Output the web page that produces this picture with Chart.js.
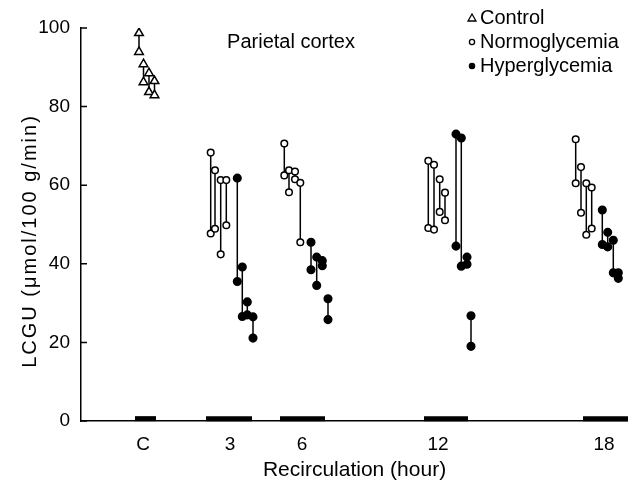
<!DOCTYPE html>
<html>

<head>
    <title>Parietal cortex LCGU</title>
    <script src="https://cdn.jsdelivr.net/npm/chart.js"></script>
    <style>
        body { margin: 0; background: #fff; }
    </style>
</head>

<body>

    <div style="width: 628px; height: 484px;">
        <canvas id="myChart" width="628" height="484"></canvas>
    </div>

    <script>
        // x axis: group tick positions (arbitrary position units) and labels
        const groupLabels = ['C', '3', '6', '12', '18'];
        const groupTickPos = [6.2, 14.9, 22.1, 35.7, 52.3];
        // thick black marks sitting on the x axis under each group
        const groupBarFrom = [5.4, 12.5, 19.9, 34.3, 50.2];
        const groupBarTo = [7.5, 17.1, 24.4, 38.7, 54.7];

        const yTicks = [0, 20, 40, 60, 80, 100];

        // each animal = a pair of values joined by a vertical line
        const controlX = [5.8, 6.25, 6.8, 7.35];
        const controlFirst = [98.7, 90.8, 88.5, 86.5];
        const controlSecond = [93.9, 86.2, 83.7, 82.9];

        const normoX = [12.97, 13.4, 13.97, 14.53, 20.33, 20.8, 21.4, 21.93,
            34.73, 35.3, 35.87, 36.4, 49.47, 50.0, 50.53, 51.07];
        const normoFirst = [68.3, 63.8, 61.3, 61.3, 70.6, 63.8, 63.5, 60.6,
            66.2, 65.2, 61.5, 58.1, 71.7, 64.6, 60.5, 59.4];
        const normoSecond = [47.7, 48.9, 42.4, 49.8, 62.5, 58.2, 61.5, 45.5,
            49.1, 48.7, 53.2, 51.1, 60.5, 53.0, 47.4, 49.0];

        const hyperX = [15.63, 16.13, 16.63, 17.2, 23.0, 23.57, 24.13, 24.7,
            37.5, 38.03, 38.6, 39.0, 52.13, 52.67, 53.23, 53.73];
        const hyperFirst = [61.8, 39.2, 30.3, 26.5, 45.5, 41.7, 40.8, 31.1,
            73.0, 72.0, 41.7, 26.8, 53.7, 48.0, 46.0, 37.7];
        const hyperSecond = [35.5, 26.6, 27.0, 21.1, 38.5, 34.5, 39.5, 25.8,
            44.5, 39.4, 39.9, 19.0, 44.9, 44.3, 37.7, 36.3];

        const FONT = "'Liberation Sans', Arial, Helvetica, sans-serif";

        // pairs -> one series with gaps between animals
        function pairs(xs, a, b) {
            const out = [];
            xs.forEach((x, i) => {
                out.push({ x: x, y: a[i] });
                out.push({ x: x, y: b[i] });
                out.push({ x: x, y: null });
            });
            return out;
        }

        function seriesSet(label, xs, a, b, style, radius, fill) {
            return {
                label: label,
                data: pairs(xs, a, b),
                showLine: true,
                spanGaps: false,
                borderColor: '#000',
                borderWidth: 1.5,
                pointStyle: style,
                pointRadius: radius,
                pointHoverRadius: radius,
                pointBorderWidth: 1.5,
                pointBackgroundColor: fill,
                pointBorderColor: '#000'
            };
        }

        const datasets = [
            seriesSet('Control', controlX, controlFirst, controlSecond, 'triangle', 5, '#fff'),
            seriesSet('Normoglycemia', normoX, normoFirst, normoSecond, 'circle', 3.3, '#fff'),
            seriesSet('Hyperglycemia', hyperX, hyperFirst, hyperSecond, 'circle', 3.8, '#000')
        ];

        groupBarFrom.forEach((from, i) => {
            datasets.push({
                label: 'bar' + i,
                data: [{ x: from, y: 0.6 }, { x: groupBarTo[i], y: 0.6 }],
                showLine: true,
                borderColor: '#000',
                borderWidth: 5,
                borderCapStyle: 'butt',
                pointRadius: 0,
                clip: false
            });
        });

        // inward y ticks, y title, panel title and legend
        const decorations = {
            id: 'decorations',
            afterDraw(chart) {
                const ctx = chart.ctx;
                const area = chart.chartArea;
                const ys = chart.scales.y;
                ctx.save();
                ctx.strokeStyle = '#000';
                ctx.lineWidth = 1.5;
                ctx.beginPath();
                yTicks.forEach(v => {
                    const py = ys.getPixelForValue(v);
                    ctx.moveTo(area.left, py);
                    ctx.lineTo(area.left + 6, py);
                });
                ctx.stroke();

                ctx.fillStyle = '#000';
                ctx.textBaseline = 'middle';

                // y axis title
                ctx.save();
                ctx.font = '20px ' + FONT;
                ctx.letterSpacing = '2px';
                ctx.translate(30, 241);
                ctx.rotate(-Math.PI / 2);
                ctx.textAlign = 'center';
                ctx.fillText('LCGU (μmol/100 g/min)', 0, 0);
                ctx.restore();

                // panel title
                ctx.font = '20px ' + FONT;
                ctx.textAlign = 'center';
                ctx.fillText('Parietal cortex', 291, 42);

                // legend
                ctx.textAlign = 'left';
                const rows = [18, 42, 66];
                datasets.slice(0, 3).forEach((ds, i) => {
                    const cy = rows[i];
                    const cx = 472;
                    ctx.lineWidth = 1.3;
                    ctx.beginPath();
                    if (ds.pointStyle === 'triangle') {
                        ctx.moveTo(cx, cy - 4);
                        ctx.lineTo(cx + 4, cy + 3);
                        ctx.lineTo(cx - 4, cy + 3);
                        ctx.closePath();
                        ctx.stroke();
                    } else {
                        ctx.arc(cx, cy, 2.6, 0, Math.PI * 2);
                        ctx.fillStyle = ds.pointBackgroundColor;
                        ctx.fill();
                        ctx.stroke();
                    }
                    ctx.fillStyle = '#000';
                    ctx.fillText(ds.label, 480, cy);
                });
                ctx.restore();
            }
        };

        const ctx = document.getElementById('myChart').getContext('2d');

        const myChart = new Chart(ctx, {
            type: 'scatter',
            data: { datasets: datasets },
            options: {
                responsive: false,
                animation: false,
                devicePixelRatio: 1,
                layout: { autoPadding: false, padding: { top: 28, right: 0, left: 0, bottom: 0 } },
                plugins: {
                    legend: { display: false },
                    tooltip: { enabled: false }
                },
                scales: {
                    x: {
                        type: 'linear',
                        min: 0,
                        max: 54.7,
                        afterBuildTicks: (scale) => {
                            scale.ticks = groupTickPos.map(v => ({ value: v }));
                        },
                        afterFit: (scale) => {
                            scale.height = 63;
                            scale.paddingLeft = 0;
                            scale.paddingRight = 0;
                        },
                        ticks: {
                            autoSkip: false,
                            maxRotation: 0,
                            padding: 12,
                            color: '#000',
                            font: { size: 19, family: FONT },
                            callback: (value, index) => groupLabels[index]
                        },
                        grid: { display: false, drawTicks: false },
                        border: { display: true, color: '#000', width: 1.5 },
                        title: {
                            display: true,
                            text: 'Recirculation (hour)',
                            color: '#000',
                            font: { size: 21, family: FONT },
                            padding: { top: 0, bottom: 1 }
                        }
                    },
                    y: {
                        min: 0,
                        max: 100,
                        afterBuildTicks: (scale) => {
                            scale.ticks = yTicks.map(v => ({ value: v }));
                        },
                        afterFit: (scale) => { scale.width = 81; },
                        ticks: {
                            padding: 11,
                            color: '#000',
                            font: { size: 19, family: FONT }
                        },
                        grid: { drawOnChartArea: false, drawTicks: false },
                        border: { display: true, color: '#000', width: 1.5 }
                    }
                }
            },
            plugins: [decorations]
        });
    </script>

</body>

</html>
